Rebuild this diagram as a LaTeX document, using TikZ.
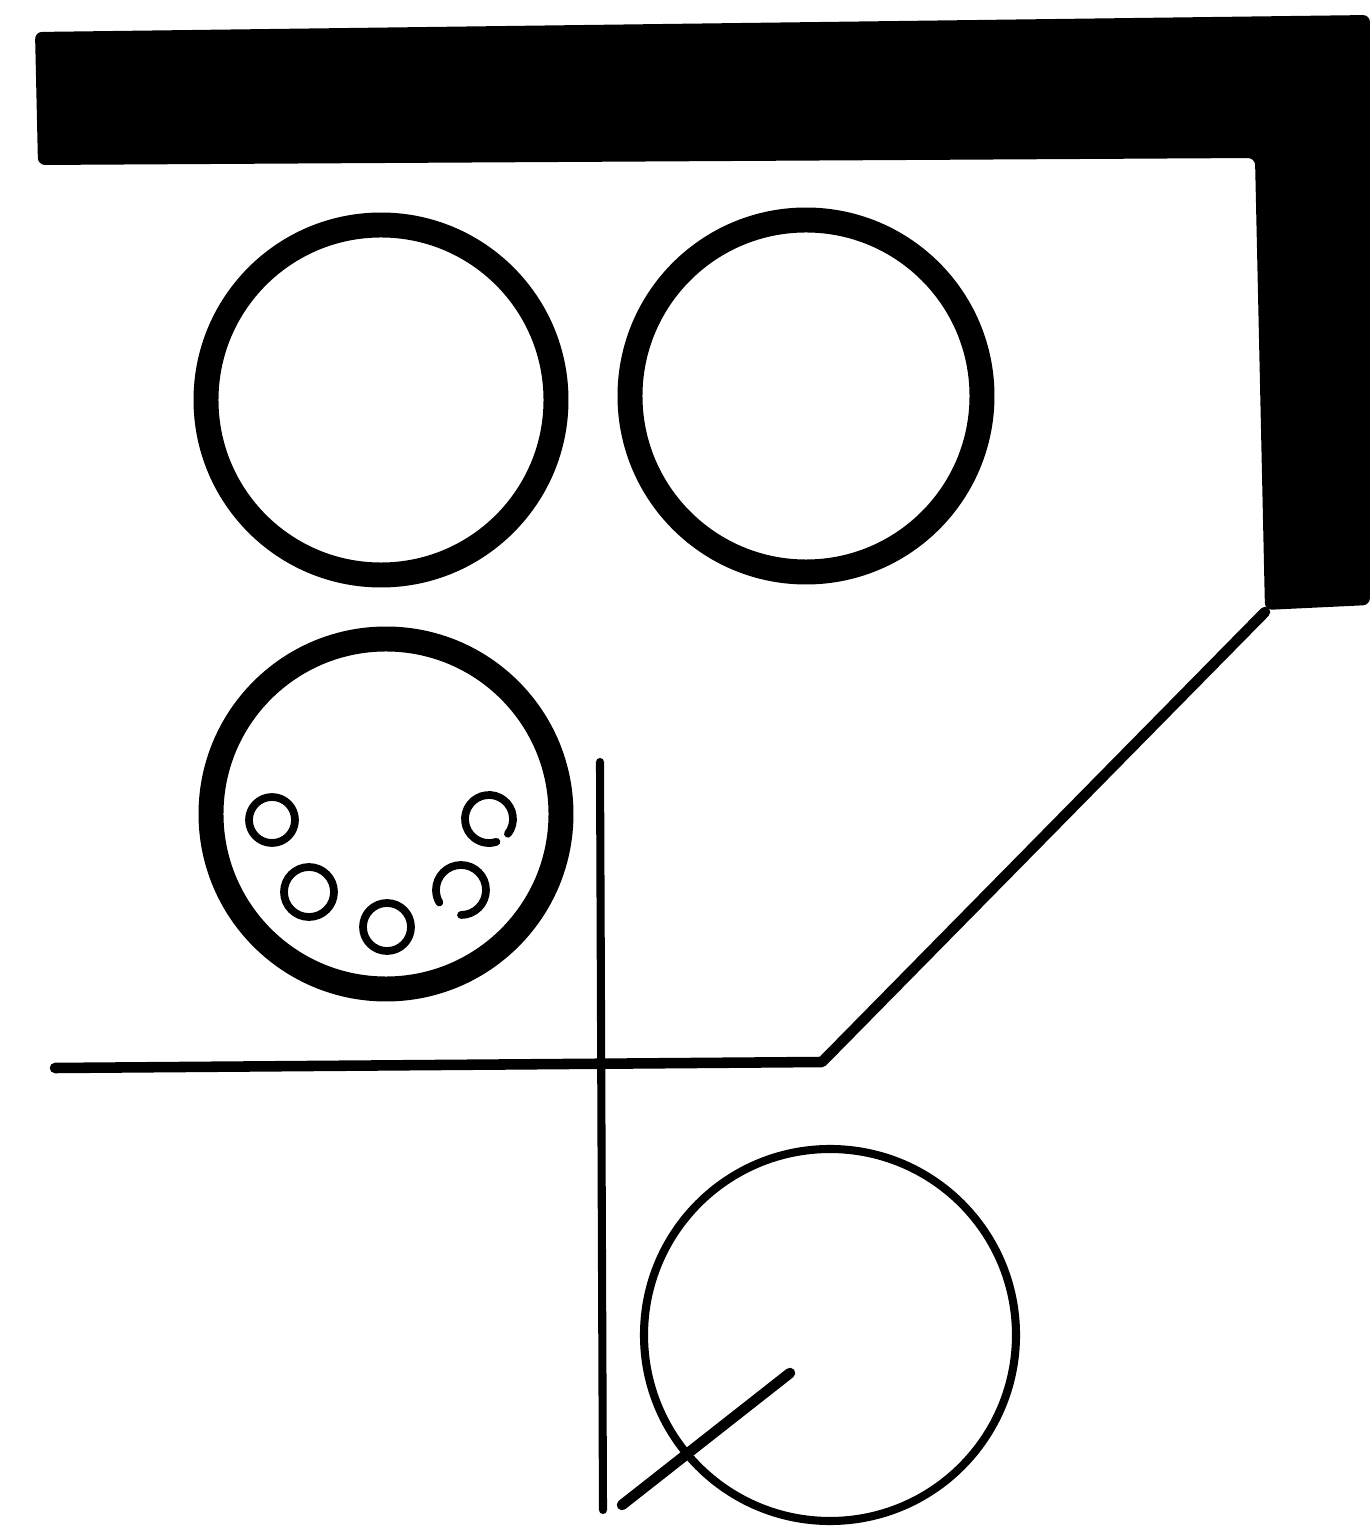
\documentclass[tikz,border=0pt]{standalone}
\usepackage{xcolor}
\usepackage{tikz}
\usetikzlibrary{calc}
\definecolor{ink}{HTML}{000000}

\begin{document}
\begin{tikzpicture}[x=0.01cm, y=0.01cm, line cap=round, line join=round]
\tikzset{
  bigring/.style={draw=ink, line width=7.1pt},
  pebble/.style={draw=ink, line width=2.2pt},
  rail/.style={draw=ink, line width=3pt},
  pole/.style={draw=ink, line width=2.3pt},
  wheel/.style={draw=ink, line width=2.3pt}
}
\useasboundingbox (0,0) rectangle (1370,1535);
% solid wall along the top and right side
\fill[ink, rounded corners=2pt] (35,1503) -- (1370,1520) -- (1370,930) -- (1265,925) -- (1255,1377) -- (38,1370) -- cycle;
% two plain rings on top, one ring with pebbles below
\draw[bigring] (381,1135) circle (175);
\draw[bigring] (806,1139) circle (176);
\draw[bigring] (386,721) circle (175);
\foreach \px/\py/\r in {272/715/23, 309/643/25, 387/608/24} {
  \draw[pebble] (\px,\py) circle (\r);
}
\draw[pebble] ($(461,645)+(-90:25)$) arc (-90:210:25);
\draw[pebble] ($(489,716)+(-38:24)$) arc (-38:288:24);
% rail: straight, then bending up to the wall
\coordinate (railW) at (55,467);
\coordinate (railK) at (822,473);
\coordinate (railE) at (1265,923);
\draw[rail] (railW) -- (railK) -- (railE);
% upright pole crossing the rail
\coordinate (poleT) at (600,773);
\coordinate (poleB) at (603,25);
\draw[pole] (poleT) -- (poleB);
% wheel with a spoke sticking out
\draw[wheel] (830,200) circle (186);
\coordinate (spokeA) at (790,162);
\coordinate (spokeB) at (622,30);
\draw[rail] (spokeA) -- (spokeB);
\end{tikzpicture}
\end{document}
